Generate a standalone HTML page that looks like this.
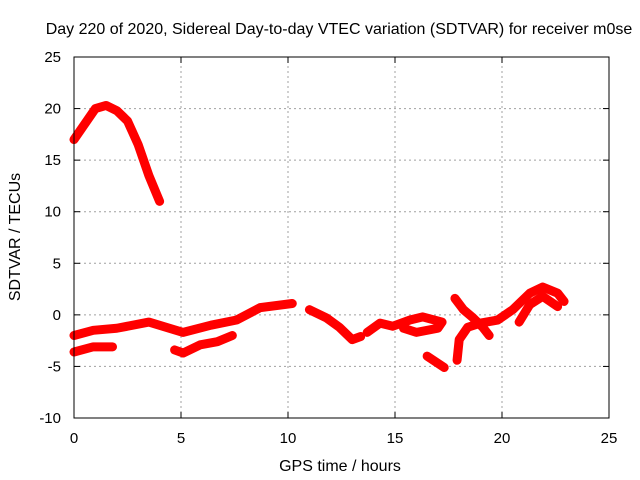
<!DOCTYPE html>
<html><head><meta charset="utf-8"><style>
body{margin:0;background:#fff;}
svg{display:block;font-family:"Liberation Sans",sans-serif;}
</style></head><body>
<svg id="chart" width="640" height="480" viewBox="0 0 640 480">
<rect width="640" height="480" fill="#fff"/>
<text x="339" y="34" font-size="16" text-anchor="middle">Day 220 of 2020, Sidereal Day-to-day VTEC variation (SDTVAR) for receiver m0se</text>
<g id="grid"></g><g id="series"></g><g id="axes"></g>
<text x="340" y="471" font-size="16" text-anchor="middle">GPS time / hours</text>
<text transform="translate(20,237) rotate(-90)" font-size="16" text-anchor="middle">SDTVAR / TECUs</text>
</svg>
<script>
const xTicks=[0,5,10,15,20,25];
const yTicks=[-10,-5,0,5,10,15,20,25];
const sA_t=[0,0.5,1,1.5,2,2.5,3,3.5,4];
const sA_v=[17,18.5,20,20.3,19.8,18.8,16.5,13.5,11];
const sB_t=[0,0.9,2,3.5,5.1,6.4,7.6,8.7,10.2];
const sB_v=[-2,-1.5,-1.3,-0.7,-1.7,-1,-0.5,0.7,1.1];
const sC_t=[0,0.9,1.8];
const sC_v=[-3.6,-3.1,-3.1];
const sD_t=[4.7,5.1,5.9,6.7,7.4];
const sD_v=[-3.4,-3.7,-2.9,-2.6,-2];
const sE_t=[11,11.8,12.4,13,13.4];
const sE_v=[0.5,-0.3,-1.2,-2.4,-2.1];
const sF_t=[13.7,14.3,14.9,15.7,16.3,17.2,17,16,15.4];
const sF_v=[-1.7,-0.8,-1.1,-0.5,-0.2,-0.7,-1.3,-1.7,-1.3];
const sG_t=[16.5,17.3];
const sG_v=[-4,-5.1];
const sH_t=[17.8,18.2,18.6,19.1,19.4];
const sH_v=[1.6,0.5,-0.2,-1.2,-2];
const sI_t=[17.9,18,18.4,19,19.8,20.5,21.3,21.9,22.6,22.9];
const sI_v=[-4.4,-2.4,-1.2,-0.8,-0.5,0.5,2.1,2.7,2.1,1.3];
const sJ_t=[20.8,21.3,21.9,22.6];
const sJ_v=[-0.7,1,1.8,0.8];
const seriesList=[[sA_t,sA_v],[sB_t,sB_v],[sC_t,sC_v],[sD_t,sD_v],[sE_t,sE_v],[sF_t,sF_v],[sG_t,sG_v],[sH_t,sH_v],[sI_t,sI_v],[sJ_t,sJ_v]];
const X0=74,X1=609,Y0=418,Y1=57;
const xs=t=>X0+(t-0)/(25-0)*(X1-X0);
const ys=v=>Y0-(v+10)/35*(Y0-Y1);
const NS="http://www.w3.org/2000/svg";
function mk(tag,attrs,parent){const e=document.createElementNS(NS,tag);for(const k in attrs)e.setAttribute(k,attrs[k]);parent.appendChild(e);return e;}
const grid=document.getElementById('grid'),axes=document.getElementById('axes'),ser=document.getElementById('series');
xTicks.forEach(t=>{
  if(t>0&&t<25){const l=mk('line',{x1:xs(t),x2:xs(t),y1:Y0,y2:Y1,stroke:'#a0a0a0','stroke-dasharray':'2,3'},grid);
  
  }
  mk('line',{x1:xs(t),x2:xs(t),y1:Y0,y2:Y0-6,stroke:'#000'},axes);
  mk('line',{x1:xs(t),x2:xs(t),y1:Y1,y2:Y1+6,stroke:'#000'},axes);
  const tx=mk('text',{x:xs(t),y:Y0+25,'font-size':15,'text-anchor':'middle'},axes);tx.textContent=t;
  
  
});
yTicks.forEach(v=>{
  if(v>-10&&v<25){const l=mk('line',{x1:X0,x2:X1,y1:ys(v),y2:ys(v),stroke:'#a0a0a0','stroke-dasharray':'2,3'},grid);
  
  }
  mk('line',{x1:X0,x2:X0+6,y1:ys(v),y2:ys(v),stroke:'#000'},axes);
  mk('line',{x1:X1,x2:X1-6,y1:ys(v),y2:ys(v),stroke:'#000'},axes);
  const tx=mk('text',{x:X0-13,y:ys(v)+5,'font-size':15,'text-anchor':'end'},axes);tx.textContent=v;
  
  
});
const fr=mk('rect',{x:X0,y:Y1,width:X1-X0,height:Y0-Y1,fill:'none',stroke:'#000'},axes);


seriesList.forEach(([T,V])=>{
  const pts=T.map((t,i)=>xs(t)+','+ys(V[i])).join(' ');
  const p=mk('polyline',{points:pts,fill:'none',stroke:'#ff0000','stroke-width':9,'stroke-linejoin':'round','stroke-linecap':'round'},ser);
  
  
});
</script>
</body></html>
